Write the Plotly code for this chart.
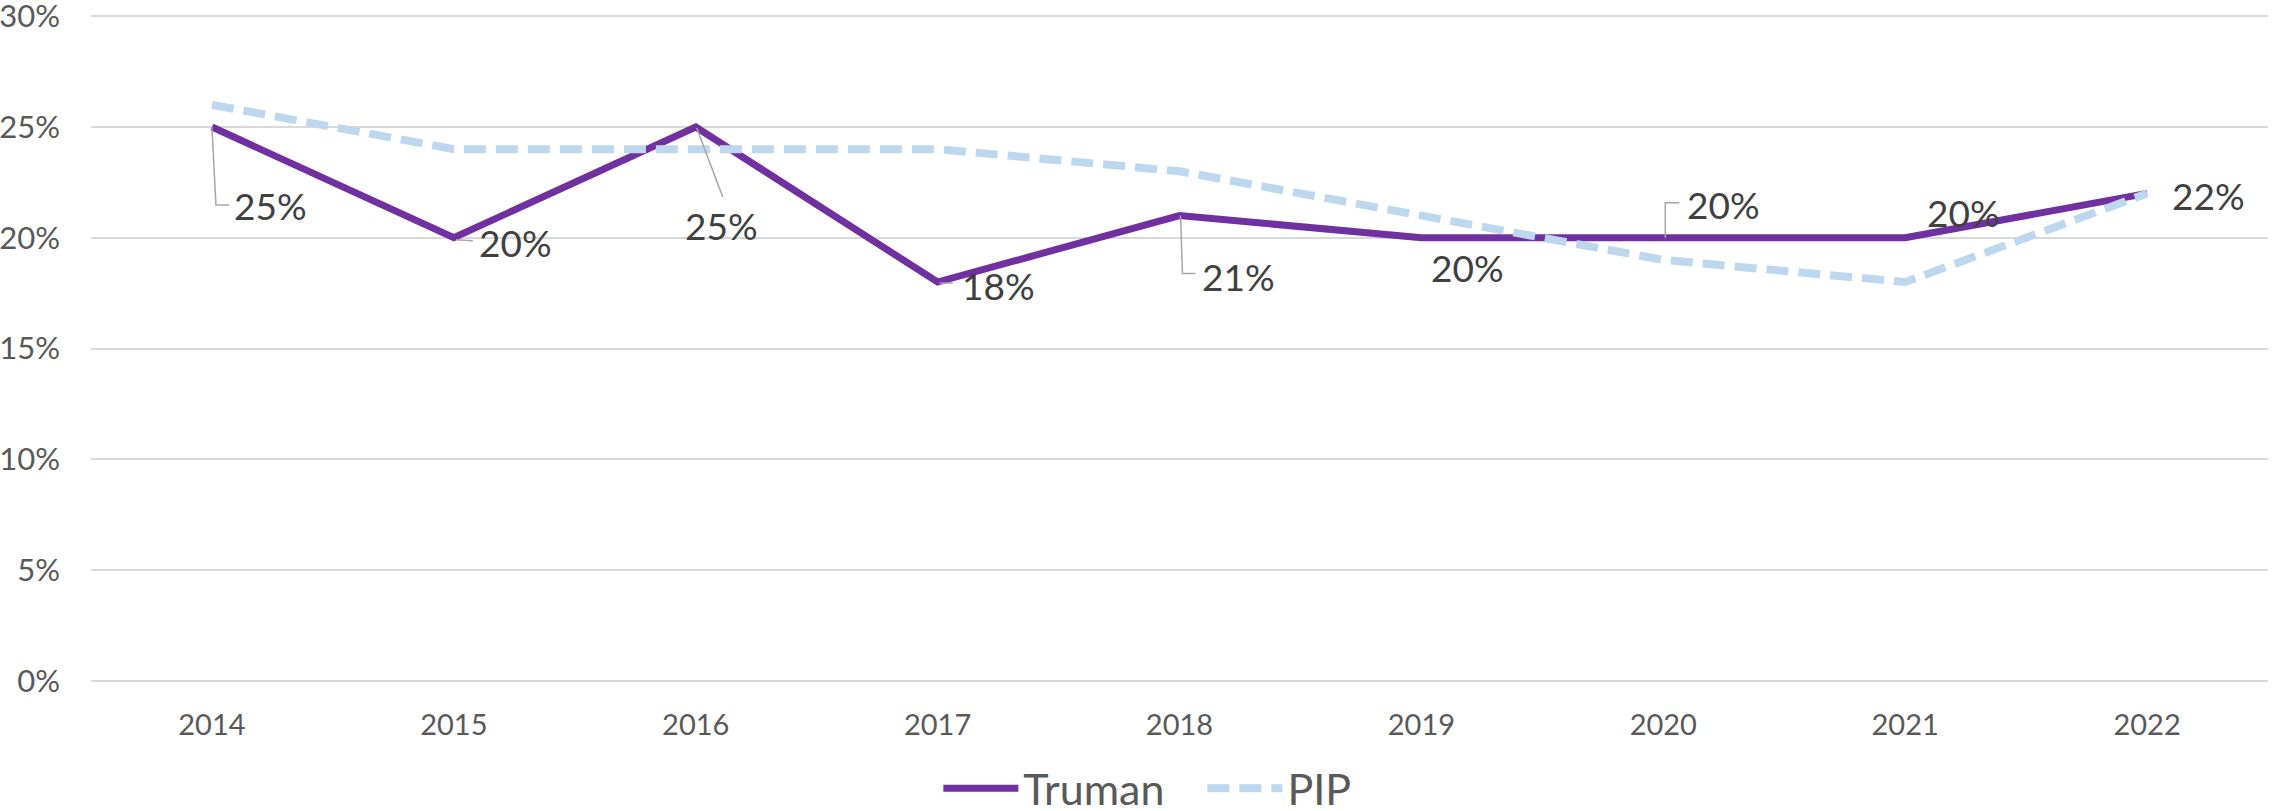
import plotly.graph_objects as go

years = ["2014", "2015", "2016", "2017", "2018", "2019", "2020", "2021", "2022"]
truman = [25, 20, 25, 18, 21, 20, 20, 20, 22]
pip = [26, 24, 24, 24, 23, 21, 19, 18, 22]
y_ticks = [0, 5, 10, 15, 20, 25, 30]
y_tick_text = ["0%", "5%", "10%", "15%", "20%", "25%", "30%"]
series_names = ["Truman\u00a0\u00a0\u00a0", "PIP"]

# label placement (pixel offsets from each Truman point) and leader paths
label_dx = [59, 62, 26, 61, 59, 46, 60, 58, 61]
label_dy = [-79, -5, -99, -3, -61, -30, 33, 25, -2]
leaders = [
    "M0,0 L4,-78 L17,-78",
    "M2,-2 L19,-3",
    "M1,-1 L27,-70",
    "M2,-1 L15,-1",
    "M1,0 L3,-58 L16,-58",
    None,
    "M2,0 L2,35 L16,35",
    None,
    None,
]

FONT = "Lato"

fig = go.Figure()
fig.add_trace(go.Scatter(
    x=years, y=truman, mode="lines", name=series_names[0],
    line=dict(color="#7030A0", width=7),
))
fig.add_trace(go.Scatter(
    x=years, y=pip, mode="lines", name=series_names[1],
    line=dict(color="#BDD7EE", width=8, dash="22px,10px"),
))

for i, v in enumerate(truman):
    fig.add_annotation(
        x=i, y=v, xref="x", yref="y", text=f"{v}%", showarrow=False,
        xshift=label_dx[i], yshift=label_dy[i],
        font=dict(family=FONT, size=37, color="#404040"),
    )
    if leaders[i]:
        fig.add_shape(
            type="path", path=leaders[i], xref="x", yref="y",
            xsizemode="pixel", ysizemode="pixel", xanchor=i, yanchor=v,
            line=dict(color="#A6A6A6", width=1.5), layer="above",
        )

fig.update_layout(
    width=2272, height=811,
    margin=dict(l=91, r=4, t=14, b=128, autoexpand=False),
    paper_bgcolor="white", plot_bgcolor="white",
    font=dict(family=FONT, color="#595959"),
    showlegend=True,
    legend=dict(
        orientation="h", xref="container", x=0.505, xanchor="center",
        yref="container", y=0.028, yanchor="middle",
        font=dict(family=FONT, size=43, color="#595959"),
        itemwidth=75, tracegroupgap=0,
    ),
    xaxis=dict(
        type="category", range=[-0.5, 8.5], showgrid=False, zeroline=False,
        showline=False, ticks="", ticklabelstandoff=22,
        tickfont=dict(family=FONT, size=29, color="#595959"),
    ),
    yaxis=dict(
        range=[-0.1, 30.1], tickvals=y_ticks, ticktext=y_tick_text,
        showgrid=True, gridcolor="#D9D9D9", gridwidth=2,
        zeroline=False, showline=False, ticks="", ticklabelstandoff=30,
        ticklabeloverflow="allow",
        tickfont=dict(family=FONT, size=31, color="#595959"),
    ),
)

fig.write_html(
    "out.html",
    config={"displayModeBar": False},
    post_script="document.body.style.margin='0';document.body.style.overflow='hidden';",
)
